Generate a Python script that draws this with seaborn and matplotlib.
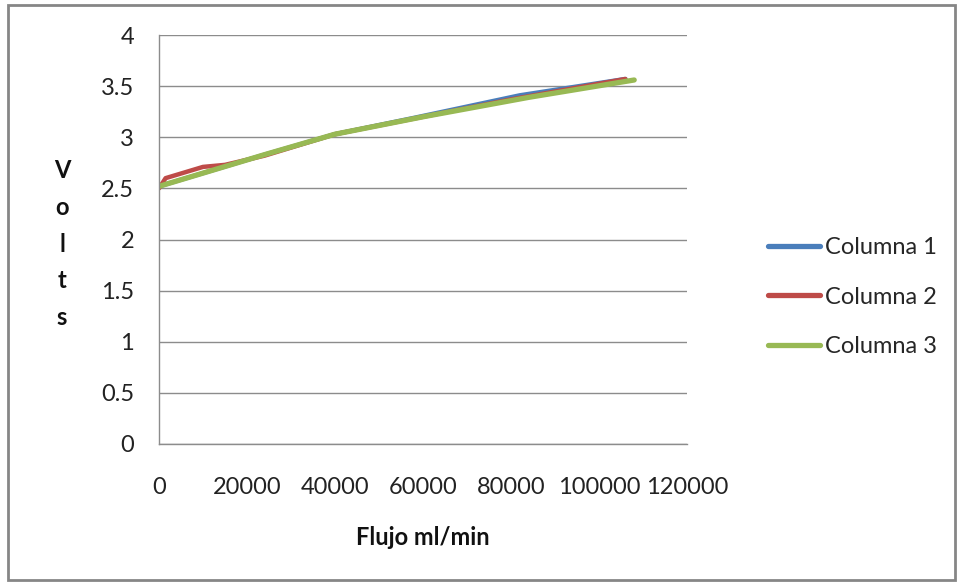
import matplotlib
matplotlib.use("Agg")
import matplotlib.pyplot as plt
from matplotlib.patches import Rectangle
import seaborn as sns
import pandas as pd

# Flow (ml/min) vs. voltage readings for three columns
col1_flow = [0, 24000, 40000, 58000, 82000, 106000]
col1_volts = [2.52, 2.83, 3.03, 3.19, 3.41, 3.57]

col2_flow = [0, 1500, 10000, 15000, 24000, 40000, 60000, 80000, 106000]
col2_volts = [2.50, 2.60, 2.71, 2.73, 2.82, 3.03, 3.20, 3.37, 3.57]

col3_flow = [0, 24000, 40000, 60000, 84000, 108000]
col3_volts = [2.52, 2.83, 3.03, 3.20, 3.39, 3.56]

series_names = ["Columna 1", "Columna 2", "Columna 3"]
x_ticks = [0, 20000, 40000, 60000, 80000, 100000, 120000]
y_ticks = [0, 0.5, 1, 1.5, 2, 2.5, 3, 3.5, 4]

frames = []
for name, xs, ys in zip(series_names,
                        [col1_flow, col2_flow, col3_flow],
                        [col1_volts, col2_volts, col3_volts]):
    frames.append(pd.DataFrame({"flujo": xs, "volts": ys, "serie": name}))
df = pd.concat(frames, ignore_index=True)

sns.set_theme(style="white")
plt.rcParams["font.family"] = ["Lato", "DejaVu Sans"]

W, H = 961, 584
FS = 17
fig = plt.figure(figsize=(W / 100, H / 100), dpi=100)
ax = fig.add_axes([159 / W, 1 - 444 / H, (687 - 159) / W, (444 - 35) / H])

palette = {"Columna 1": "#4A7EBB", "Columna 2": "#BE4B48", "Columna 3": "#98B954"}
sns.lineplot(data=df, x="flujo", y="volts", hue="serie", palette=palette,
             sort=False, estimator=None, linewidth=3.2, ax=ax)
for line in ax.get_lines():
    line.set_solid_capstyle("round")
    line.set_solid_joinstyle("round")
ax.get_lines()[2].set_linewidth(3.8)

grid_c = "#8C8C8C"
ax.set_xlim(0, 120000)
ax.set_ylim(0, 4)
ax.set_xticks(x_ticks)
ax.set_xticklabels([str(v) for v in x_ticks])
ax.set_yticks(y_ticks)
ax.set_yticklabels([f"{v:g}" for v in y_ticks])
ax.yaxis.grid(True, color=grid_c, linewidth=1.0)
ax.xaxis.grid(False)
for side in ["top", "right"]:
    ax.spines[side].set_visible(False)
for side in ["left", "bottom"]:
    ax.spines[side].set_color(grid_c)
    ax.spines[side].set_linewidth(1.0)
ax.tick_params(axis="both", which="major", direction="out", color=grid_c,
               length=7, width=1.0, labelsize=FS, labelcolor="#222222")
ax.tick_params(axis="x", pad=17)
ax.tick_params(axis="y", pad=11)

ax.set_xlabel("Flujo ml/min", fontsize=FS, fontweight="bold", labelpad=20,
              color="#111111")
ax.set_ylabel("")
fig.text(62 / W, 1 - 244 / H, "\n".join("Volts"), fontsize=FS,
         fontweight="bold", ha="center", va="center", linespacing=1.72,
         color="#111111")

handles, labels = ax.get_legend_handles_labels()
for h in handles:
    h.set_linewidth(3.8)
ax.legend(handles, labels, loc="center left", frameon=False,
          bbox_to_anchor=(768 / W, 1 - 297 / H), bbox_transform=fig.transFigure,
          fontsize=FS, handlelength=2.2, handletextpad=0.2, labelspacing=1.2,
          borderpad=0, borderaxespad=0)

fig.patches.append(Rectangle((8 / W, 1 - 580 / H), (955 - 8) / W, (580 - 5) / H,
                             transform=fig.transFigure, fill=False,
                             edgecolor="#868686", linewidth=2.0))

fig.savefig("out.png", dpi=100)
